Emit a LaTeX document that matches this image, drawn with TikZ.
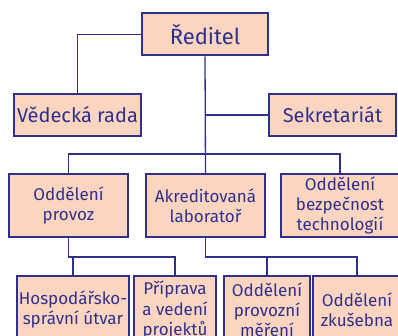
\documentclass[tikz,border=0pt]{standalone}
\usepackage{fontspec}
\setmainfont{Fira Sans}
\definecolor{boxfill}{RGB}{252,213,193}
\definecolor{navy}{RGB}{46,48,140}
\begin{document}
\begin{tikzpicture}[x=1pt, y=-1pt, line width=1.3pt, draw=navy,
  main node/.style={rectangle, draw=navy, line width=2pt, fill=boxfill, text=navy, align=center, inner sep=0pt},
  top node/.style={main node, minimum width=127pt, minimum height=42pt, font=\fontsize{20}{23}\selectfont},
  mid node/.style={main node, minimum height=63pt, font=\fontsize{17}{20}\selectfont},
  low node/.style={main node, minimum height=68pt, font=\fontsize{17}{20}\selectfont}]
        \clip (0,0) rectangle (398,336);

          \node[top node, minimum width=126pt, font=\fontsize{22}{25}\selectfont] (1) at (205,34.5) {Ředitel};
          \node[top node] (2) at (77.5,115) {Vědecká rada};
          \node[top node] (3) at (332.5,115) {Sekretariát};

          \node[mid node, minimum width=119pt] (4) at (68.5,205.5) {Oddělení\\provoz};
          \node[mid node, minimum width=119pt] (5) at (205.5,205.5) {Akreditovaná\\laboratoř};
          \node[mid node, minimum width=118pt] (6) at (340,205.5) {Oddělení\\bezpečnost\\technologií};

          \node[low node, minimum width=112pt] (7) at (73,310) {Hospodářsko-\\správní útvar};
          \node[low node, minimum width=82pt] (8) at (175,310) {Příprava\\a vedení\\projektů};
          \node[low node, minimum width=86pt] (9) at (267,310) {Oddělení\\provozní\\měření};
          \node[low node, minimum width=88pt] (10) at (357,310) {Oddělení\\zkušebna};

          \coordinate (b1) at (205,154);
          \coordinate (b2) at (120,257);
          \coordinate (b3) at (300,257);

          \draw (1.west) -| (2.north);
          \draw (1.south) -- (5.north);
          \draw (3.west) -- (3 -| 1);
          \draw (4.north) |- (b1) -| (6.north);
          \draw (4.south) |- (b2) -| (8.north);
          \draw (7.north) -- (7.north |- b2);
          \draw (5.south) |- (b3) -| (10.north);
          \draw (9.north) -- (9.north |- b3);

\end{tikzpicture}
\end{document}
